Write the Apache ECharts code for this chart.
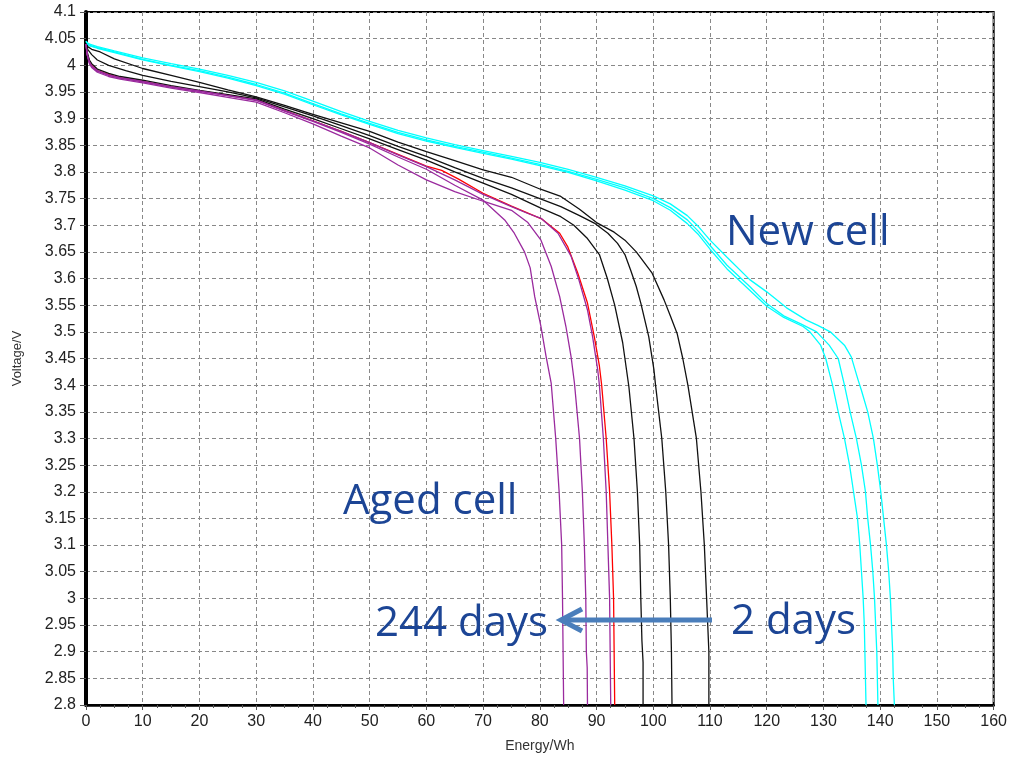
<!DOCTYPE html>
<html>
<head>
<meta charset="utf-8">
<script src="https://cdn.jsdelivr.net/npm/echarts@6/dist/echarts.min.js"></script>
<style>
html,body{margin:0;padding:0;background:#fff;}
#chart{width:1010px;height:758px;}
</style>
</head>
<body>
<div id="chart"></div>
<script>
// ---- data: [energy Wh, voltage V] ----
const cyanA = [[0,4.045],[0.5,4.037],[2,4.032],[5,4.024],[10,4.01],[15,3.999],[20,3.988],[25,3.976],[30,3.962],[35,3.946],[40,3.926],[45,3.907],[50,3.889],[55,3.872],[60,3.858],[65,3.846],[70,3.835],[75,3.824],[80,3.812],[85,3.799],[90,3.783],[95,3.766],[100,3.746],[103,3.728],[106,3.703],[108,3.682],[110,3.655],[113,3.618],[117,3.578],[120,3.548],[123,3.527],[126.4,3.51],[127.6,3.5],[129.5,3.475],[130.4,3.45],[131.6,3.4],[132.6,3.35],[133.7,3.3],[134.6,3.25],[135.3,3.2],[136,3.15],[136.4,3.1],[136.7,3.05],[137,3.0],[137.2,2.95],[137.3,2.9],[137.4,2.85],[137.5,2.8]];
const cyanB = [[0,4.045],[0.5,4.038],[2,4.033],[5,4.025],[10,4.011],[15,4.0],[20,3.99],[25,3.978],[30,3.964],[35,3.948],[40,3.928],[45,3.909],[50,3.891],[55,3.874],[60,3.86],[65,3.848],[70,3.837],[75,3.826],[80,3.814],[85,3.801],[90,3.786],[95,3.77],[100,3.75],[103,3.733],[106,3.71],[108,3.688],[110,3.662],[113,3.625],[117,3.585],[120,3.553],[123,3.53],[126,3.515],[128.8,3.5],[131,3.475],[132.6,3.45],[133.7,3.4],[134.7,3.35],[135.8,3.3],[136.7,3.25],[137.4,3.2],[137.8,3.15],[138.3,3.1],[138.7,3.05],[139.0,3.0],[139.2,2.95],[139.4,2.9],[139.5,2.85],[139.6,2.8]];
const cyanC = [[0,4.045],[0.5,4.04],[2,4.035],[5,4.027],[10,4.014],[15,4.003],[20,3.993],[25,3.981],[30,3.968],[35,3.952],[40,3.933],[45,3.913],[50,3.895],[55,3.878],[60,3.864],[65,3.851],[70,3.84],[75,3.829],[80,3.818],[85,3.805],[90,3.79],[95,3.774],[100,3.755],[103,3.74],[106,3.718],[108,3.697],[110,3.672],[113,3.64],[117,3.598],[120,3.575],[123.5,3.545],[127,3.522],[129,3.512],[131.2,3.5],[133.7,3.475],[134.9,3.453],[136.1,3.41],[136.7,3.39],[137.8,3.35],[138.8,3.3],[139.5,3.25],[140.1,3.2],[140.6,3.15],[141.1,3.1],[141.5,3.05],[141.8,3.0],[142.0,2.95],[142.2,2.9],[142.3,2.85],[142.5,2.8]];
const black3 = [[0,4.04],[0.3,4.035],[1,4.03],[2.5,4.025],[5,4.012],[10,3.994],[15,3.981],[20,3.968],[25,3.954],[30,3.941],[35,3.925],[40,3.908],[45,3.892],[50,3.876],[55,3.856],[60,3.838],[65,3.821],[70,3.804],[75,3.79],[80,3.768],[83.7,3.754],[87,3.73],[90,3.705],[93.1,3.687],[95,3.672],[97,3.65],[99.8,3.61],[101.9,3.56],[103,3.53],[104.2,3.497],[105.2,3.45],[106.1,3.4],[107.6,3.3],[108.4,3.2],[109,3.1],[109.4,3.0],[109.6,2.95],[109.8,2.9],[109.8,2.8]];
const black2 = [[0,4.04],[0.3,4.03],[1,4.02],[2,4.01],[4,4.0],[7,3.99],[10,3.981],[15,3.97],[20,3.96],[25,3.95],[30,3.939],[35,3.922],[40,3.905],[45,3.887],[50,3.868],[55,3.848],[60,3.829],[65,3.808],[70,3.788],[75,3.77],[80,3.75],[83.7,3.735],[87,3.718],[89.6,3.704],[92,3.685],[93.7,3.666],[95,3.645],[96,3.616],[97,3.585],[97.8,3.554],[99.2,3.491],[100.1,3.43],[100.4,3.4],[101.5,3.3],[102.2,3.2],[102.7,3.1],[103,3.0],[103.2,2.9],[103.3,2.8]];
const black1 = [[0,4.04],[0.2,4.025],[0.6,4.01],[1,4.003],[2,3.993],[4,3.985],[6,3.979],[10,3.972],[15,3.962],[20,3.953],[25,3.945],[30,3.937],[35,3.918],[40,3.9],[45,3.881],[50,3.862],[55,3.842],[60,3.822],[65,3.8],[70,3.779],[75,3.758],[80,3.733],[83.7,3.716],[86,3.7],[88.4,3.675],[90.5,3.645],[91.9,3.6],[93.2,3.55],[94.6,3.48],[95.7,3.397],[96.6,3.3],[97.2,3.2],[97.6,3.1],[97.8,3.0],[98.0,2.92],[98.2,2.88],[98.2,2.8]];
const red1 = [[0,4.04],[0.2,4.022],[0.6,4.007],[1,4.0],[2,3.99],[4,3.983],[6,3.977],[10,3.97],[15,3.96],[20,3.952],[25,3.944],[30,3.935],[35,3.915],[40,3.896],[45,3.876],[50,3.855],[55,3.833],[60,3.811],[62.7,3.803],[65.6,3.787],[70,3.76],[75,3.736],[80.3,3.712],[83.5,3.685],[84.9,3.66],[86.7,3.61],[88.4,3.554],[89.6,3.491],[90.5,3.436],[90.9,3.4],[91.7,3.3],[92.3,3.2],[92.7,3.1],[93.0,3.0],[93.1,2.9],[93.2,2.8]];
const purple3 = [[0,4.04],[0.2,4.021],[0.6,4.006],[1,3.999],[2,3.99],[4,3.982],[6,3.977],[10,3.97],[15,3.96],[20,3.952],[25,3.943],[30,3.935],[35,3.915],[40,3.896],[45,3.876],[50,3.855],[55,3.832],[60,3.81],[65,3.785],[70,3.758],[75,3.735],[77.9,3.722],[80.2,3.713],[83.2,3.685],[85.5,3.642],[86.9,3.597],[88.4,3.541],[89.3,3.491],[90.2,3.429],[90.5,3.4],[91.2,3.3],[91.7,3.2],[92.0,3.1],[92.3,3.0],[92.5,2.8]];
const purple1 = [[0,4.04],[0.2,4.02],[0.6,4.005],[1,3.998],[2,3.989],[4,3.981],[6,3.976],[10,3.969],[15,3.959],[20,3.951],[25,3.943],[30,3.934],[35,3.914],[40,3.895],[45,3.874],[50,3.852],[55,3.828],[60,3.805],[65,3.775],[70,3.747],[73.8,3.71],[75.5,3.685],[77.3,3.65],[78.3,3.62],[79.1,3.566],[80.2,3.51],[81.1,3.454],[82,3.404],[82.8,3.3],[83.4,3.2],[83.85,3.1],[84.0,3.0],[84.2,2.8]];
const purple2 = [[0,4.04],[0.2,4.02],[0.6,4.003],[1,3.996],[2,3.987],[4,3.979],[6,3.974],[10,3.967],[15,3.957],[20,3.949],[25,3.94],[30,3.931],[35,3.911],[40,3.89],[45,3.867],[50,3.845],[55,3.813],[60,3.785],[65,3.763],[70,3.745],[75,3.728],[77.9,3.705],[80.2,3.672],[82,3.623],[83.5,3.566],[84.6,3.51],[85.5,3.454],[86.1,3.404],[87,3.3],[87.5,3.2],[87.85,3.1],[88.1,3.0],[88.2,2.9],[88.35,2.87],[88.4,2.8]];

const CYAN = '#00ffff', BLACK = '#111111', PURPLE = '#9a2a9e', RED = '#ff0000';
const NOTE = '#1c4595';

function line(name, data, color) {
  return { name, type: 'line', data, showSymbol: false, symbol: 'none',
    lineStyle: { color, width: 1.3 }, itemStyle: { color }, animation: false, silent: true };
}

const chart = echarts.init(document.getElementById('chart'));
chart.setOption({
  backgroundColor: '#ffffff',
  animation: false,
  grid: { left: 86, right: 12, top: 12, bottom: 53, show: true, borderColor: '#000', borderWidth: 2, backgroundColor: '#fff' },
  xAxis: {
    type: 'value', min: 0, max: 160, interval: 10,
    name: 'Energy/Wh', nameLocation: 'middle', nameGap: 34,
    nameTextStyle: { fontFamily: 'Liberation Sans', fontSize: 14, color: '#333' },
    axisLine: { lineStyle: { color: '#000', width: 2.5 } },
    axisTick: { show: true, inside: false, length: 5, lineStyle: { color: '#555' } },
    minorTick: { show: true, splitNumber: 4, length: 3, lineStyle: { color: '#555' } },
    axisLabel: { fontFamily: 'Liberation Sans', fontSize: 16, color: '#222', margin: 9 },
    splitLine: { show: true, lineStyle: { color: '#888', type: [4, 3], width: 1 } }
  },
  yAxis: {
    type: 'value', min: 2.8, max: 4.1, interval: 0.05,
    name: 'Voltage/V', nameLocation: 'middle', nameGap: 62, nameRotate: 90,
    nameTextStyle: { fontFamily: 'Liberation Sans', fontSize: 13, color: '#333' },
    axisLine: { show: true, lineStyle: { color: '#000', width: 4 } },
    axisTick: { show: true, length: 6, lineStyle: { color: '#555' } },
    axisLabel: { fontFamily: 'Liberation Sans', fontSize: 16, color: '#222', margin: 10,
      formatter: v => String(Math.round(v * 100) / 100) },
    splitLine: { show: true, lineStyle: { color: '#888', type: [4, 3], width: 1 } }
  },
  series: [
    line('cyanA', cyanA, CYAN), line('cyanB', cyanB, CYAN), line('cyanC', cyanC, CYAN),
    line('red1', red1, RED),
    line('black3', black3, BLACK), line('black2', black2, BLACK), line('black1', black1, BLACK),
    line('purple1', purple1, PURPLE), line('purple2', purple2, PURPLE), line('purple3', purple3, PURPLE)
  ],
  graphic: [
    { type: 'text', x: 726, y: 233, z: 100, style: { text: 'New cell', font: '42px "Open Sans"', fill: NOTE, verticalAlign: 'middle' } },
    { type: 'text', x: 343, y: 502, z: 100, style: { text: 'Aged cell', font: '42px "Open Sans"', fill: NOTE, verticalAlign: 'middle' } },
    { type: 'text', x: 375, y: 624, z: 100, style: { text: '244 days', font: '42px "Open Sans"', fill: NOTE, verticalAlign: 'middle' } },
    { type: 'text', x: 731, y: 622, z: 100, style: { text: '2 days', font: '42px "Open Sans"', fill: NOTE, verticalAlign: 'middle' } },
    { type: 'line', z: 100, shape: { x1: 712, y1: 620, x2: 563, y2: 620 }, style: { stroke: '#4a7ebb', lineWidth: 5 } },
    { type: 'polyline', z: 100, shape: { points: [[582, 609], [561, 620], [582, 631]] }, style: { stroke: '#4a7ebb', lineWidth: 5, fill: null, lineJoin: 'miter' } }
  ]
});
</script>
</body>
</html>
